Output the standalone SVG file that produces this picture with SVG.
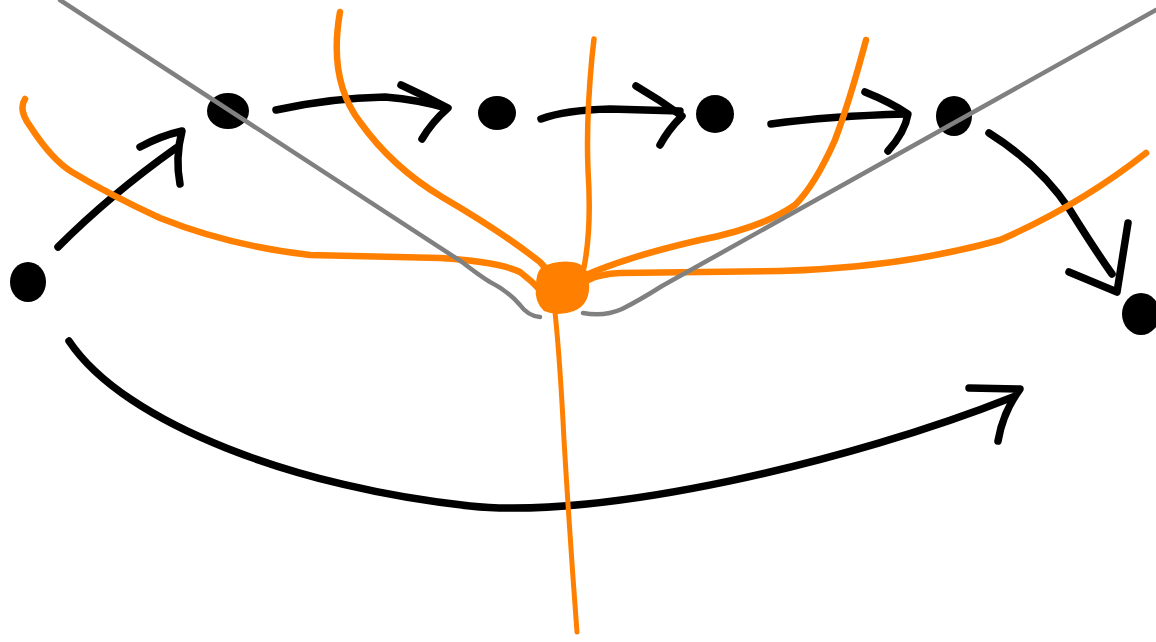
<svg xmlns="http://www.w3.org/2000/svg" width="1156" height="642" viewBox="0 0 1156 642">
<style>
.blk{fill:none;stroke:#000;stroke-width:7.5;stroke-linecap:round;stroke-linejoin:round}
.org{fill:none;stroke:#ff8000;stroke-width:6.5;stroke-linecap:round;stroke-linejoin:round}
.gry{fill:none;stroke:#808080;stroke-width:4.5;stroke-linecap:round;stroke-linejoin:round}
.dot{fill:#000}
</style>
<rect width="1156" height="642" fill="#fff"/>
<g id="connectors">
<path class="blk" d="M58,247 Q110,195 176,148"/>
<path class="blk" d="M140,147 Q160,136 182,131 Q175,158 180,184"/>
<path class="blk" d="M276,110 Q330,98 385,97 Q420,100 446,108"/>
<path class="blk" d="M401,85 Q425,96 448,108 Q432,122 422,139"/>
<path class="blk" d="M541,119 Q565,110 610,109 L680,111"/>
<path class="blk" d="M636,86 Q660,100 682,116 Q668,130 660,145"/>
<path class="blk" d="M771,124 Q830,116 906,114"/>
<path class="blk" d="M865,92 Q890,102 908,114 Q905,132 888,151"/>
<path class="blk" d="M989,133 Q1040,165 1070,210 Q1095,250 1112,274"/>
<path class="blk" d="M1069,272 L1117,292 L1128,223"/>
<path class="blk" d="M69,341 C125,425 300,488 470,506 C600,520 850,462 1013,397"/>
<path class="blk" d="M969,388 L1020,389 Q1003,412 998,441"/>
</g>
<g id="node-1"><ellipse class="dot" cx="28" cy="282" rx="18" ry="20"/></g>
<g id="node-2"><ellipse class="dot" cx="228" cy="111" rx="21" ry="18"/></g>
<g id="node-3"><ellipse class="dot" cx="497" cy="113" rx="19" ry="17"/></g>
<g id="node-4"><ellipse class="dot" cx="715" cy="114" rx="19" ry="19"/></g>
<g id="node-5"><ellipse class="dot" cx="954" cy="116" rx="18" ry="20"/></g>
<g id="node-6"><ellipse class="dot" cx="1141" cy="314" rx="19" ry="21"/></g>
<g id="orange-lines">
<path class="org" d="M25,99 Q18,110 30,126 Q52,160 72,172 Q110,195 160,218 Q230,246 310,255 L440,258 Q500,262 520,272 Q532,281 542,292"/>
<path class="org" d="M340,12 Q328,80 360,122 Q392,167 442,197 Q502,232 540,262 L556,280"/>
<path class="org" style="stroke-width:5.5" d="M594,39 L592,57 Q586,120 588,170 Q592,232 583,272"/>
<path class="org" style="stroke-width:5" d="M555,312 Q560,360 564,440 Q570,540 577,632"/>
<path class="org" d="M866,40 Q850,100 835,140 Q815,185 795,205 Q762,228 700,240 Q630,256 586,275"/>
<path class="org" d="M1146,153 Q1080,205 1000,240 Q900,268 780,271 L620,273 Q600,274 588,280"/>
</g>
<g id="center-node">
<path fill="#ff8000" d="M541,268 Q555,260 572,262 Q589,264 589,282 Q591,304 574,311 Q558,317 544,311 Q534,302 536,286 Q536,273 541,268 Z"/>
</g>
<g id="gray-lines">
<path class="gry" d="M60,0 L462,262 Q480,276 490,282 Q508,291 520,305 Q528,316 540,317"/>
<path class="gry" d="M1156,10 L662,286 Q640,300 622,309 Q604,317 583,313"/>
</g>
</svg>
